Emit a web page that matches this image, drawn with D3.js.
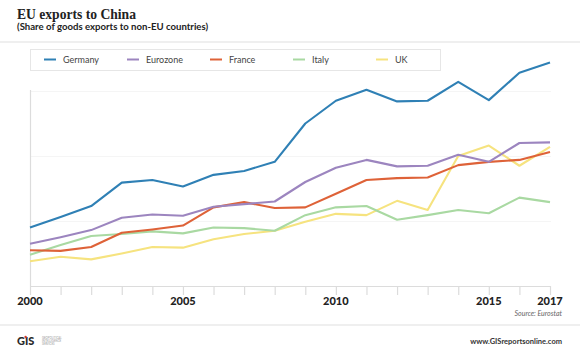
<!DOCTYPE html>
<html>
<head>
<meta charset="utf-8">
<script src="https://cdn.jsdelivr.net/npm/d3@7"></script>
<style>
html,body{margin:0;padding:0;background:#fff;}
svg{display:block;}
</style>
</head>
<body>
<svg id="chart" width="580" height="358"></svg>
<script>
const years = [2000,2001,2002,2003,2004,2005,2006,2007,2008,2009,2010,2011,2012,2013,2014,2015,2016,2017];
const germany  = [4.5,5.3,6.15,7.95,8.15,7.65,8.55,8.85,9.55,12.5,14.25,15.1,14.2,14.25,15.7,14.3,16.4,17.2];
const eurozone = [3.25,3.75,4.3,5.25,5.5,5.4,6.1,6.3,6.5,8.0,9.1,9.7,9.2,9.25,10.1,9.55,11.0,11.05];
const france   = [2.75,2.7,3.0,4.1,4.35,4.65,6.05,6.45,6.0,6.05,7.1,8.15,8.3,8.35,9.3,9.55,9.7,10.3];
const italy    = [2.4,3.15,3.85,4.0,4.2,4.05,4.5,4.45,4.25,5.45,6.05,6.15,5.1,5.45,5.85,5.6,6.8,6.45];
const uk       = [1.9,2.25,2.05,2.5,3.0,2.95,3.6,4.0,4.25,4.95,5.55,5.45,6.55,5.85,10.0,10.8,9.25,10.7];
const seriesNames = ["Germany","Eurozone","France","Italy","UK"];
const seriesColors = ["#2f80b5","#9c85bf","#de6238","#a9d9a2","#f6e37f"];
const gridValues = [5,10,15];
const tickLabels = [2000,2005,2010,2015,2017];

const seriesData = [germany, eurozone, france, italy, uk];

const svg = d3.select("#chart");
const x = d3.scaleLinear().domain([2000,2017]).range([30,550]);
const y = d3.scaleLinear().domain([0,15]).range([286,91]);

// separators
svg.append("rect").attr("x",0).attr("y",41).attr("width",580).attr("height",2).attr("fill","#efefef");
svg.append("rect").attr("x",0).attr("y",324).attr("width",580).attr("height",2).attr("fill","#efefef");

// title
svg.append("text").attr("x",17).attr("y",19)
  .attr("font-family","'Liberation Serif', serif").attr("font-weight","bold")
  .attr("font-size",13.6).attr("fill","#222").text("EU exports to China");
svg.append("text").attr("x",17).attr("y",30)
  .attr("font-family","Lato, sans-serif").attr("font-weight","bold")
  .attr("font-size",9.6).attr("fill","#222").text("(Share of goods exports to non-EU countries)");

// legend
svg.append("rect").attr("x",30.5).attr("y",49.5).attr("width",410).attr("height",21)
  .attr("fill","#fff").attr("stroke","#e6e6e6");
const leg = svg.append("g");
seriesNames.forEach((n,i)=>{
  const lx = 44 + i*83;
  leg.append("line").attr("x1",lx).attr("x2",lx+12).attr("y1",59.5).attr("y2",59.5)
    .attr("stroke",seriesColors[i]).attr("stroke-width",2);
  leg.append("text").attr("x",lx+19).attr("y",62.5)
    .attr("font-family","Lato, sans-serif").attr("font-size",9).attr("fill","#444").text(n);
});

// grid
svg.append("g").selectAll("line").data(gridValues).join("line")
  .attr("x1",30).attr("x2",551).attr("y1",d=>y(d)+0.5).attr("y2",d=>y(d)+0.5)
  .attr("stroke","#f5f5f5").attr("stroke-width",1);

// y axis line
svg.append("line").attr("x1",30.5).attr("x2",30.5).attr("y1",90).attr("y2",286)
  .attr("stroke","#dcdcdc").attr("stroke-width",1.2);

// x axis
const xAxis = d3.axisBottom(x).tickValues(years).tickSize(9).tickFormat("");
const gx = svg.append("g").attr("transform","translate(0,286)").call(xAxis);
gx.select(".domain").attr("stroke","#dcdcdc").attr("stroke-width",1.2).attr("d","M30,0.5H551");
gx.selectAll(".tick line").attr("stroke","#dcdcdc").attr("stroke-width",1.2);

svg.append("g").selectAll("text").data(tickLabels).join("text")
  .attr("x",d=>x(d)).attr("y",305).attr("text-anchor","middle")
  .attr("font-family","Lato, sans-serif").attr("font-weight","900")
  .attr("font-size",11).attr("fill","#222").text(d=>d);

svg.append("text").attr("x",562).attr("y",316).attr("text-anchor","end")
  .attr("font-family","Lato, sans-serif").attr("font-style","italic")
  .attr("font-size",7).attr("fill","#666").text("Source: Eurostat");

// lines (draw lighter first so order matches)
const line = d3.line().x((d,i)=>x(years[i])).y(d=>y(d));
const order = [4,3,2,1,0];
svg.append("g").selectAll("path").data(order).join("path")
  .attr("d",i=>line(seriesData[i])).attr("fill","none")
  .attr("stroke",i=>seriesColors[i]).attr("stroke-width",2.1)
  .attr("stroke-linejoin","round");

// footer
const logo = svg.append("g");
logo.append("text").attr("x",17).attr("y",345)
  .attr("font-family","Lato, sans-serif").attr("font-weight","900")
  .attr("font-size",11).attr("fill","#2a2a2a").text("GIS");
logo.append("circle").attr("cx",25.6).attr("cy",337).attr("r",1.2).attr("fill","#d23a2a");
["GEOPOLITICAL","INTELLIGENCE","SERVICES"].forEach((t,i)=>{
  logo.append("text").attr("x",42).attr("y",338.5+i*3.2)
    .attr("font-family","Lato, sans-serif").attr("font-size",2.8).attr("fill","#999").text(t);
});
svg.append("text").attr("x",562).attr("y",343.5).attr("text-anchor","end")
  .attr("font-family","Lato, sans-serif").attr("font-weight","bold")
  .attr("font-size",7.5).attr("fill","#333").text("www.GISreportsonline.com");
</script>
</body>
</html>
